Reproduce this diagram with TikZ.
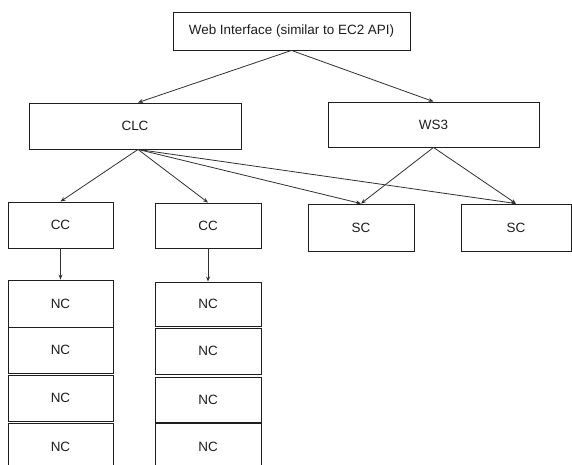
\documentclass[tikz,border=0pt]{standalone}
\usepackage{fontspec}
\setmainfont{Liberation Sans}
\usetikzlibrary{arrows.meta,calc}
\definecolor{ink}{HTML}{1E1E1E}
\definecolor{wire}{HTML}{303030}
\tikzset{
  box/.style={draw=ink, line width=0.9bp, rectangle, inner sep=0pt, text=ink, font=\fontsize{13.5}{15}\selectfont},
  link/.style={draw=wire, line width=0.8bp, -{Stealth[length=5bp,width=4bp]}},
}
\begin{document}
\begin{tikzpicture}[x=1bp,y=-1bp]
\clip (0,0) rectangle (572,465);
\fill[white] (0,0) rectangle (572,465);
\node[box, minimum width=237bp, minimum height=38bp] (web) at (291.5,31) {Web Interface (similar to EC2 API)};
\node[box, minimum width=212bp, minimum height=46bp] (clc) at (135,126) {CLC};
\node[box, minimum width=211bp, minimum height=45bp] (ws3) at (433.5,124.5) {WS3};
\node[box, minimum width=105bp, minimum height=46bp] (cc1) at (60.5,225) {CC};
\node[box, minimum width=106bp, minimum height=45bp] (cc2) at (208,225.5) {CC};
\node[box, minimum width=106bp, minimum height=47bp] (sc1) at (361,227.5) {SC};
\node[box, minimum width=110bp, minimum height=47bp] (sc2) at (516,227.5) {SC};
% NC column 1
\node[box, minimum width=105bp, minimum height=47bp] (nca1) at (60.5,303.5) {NC};
\node[box, minimum width=105bp, minimum height=46bp] (nca2) at (60.5,350) {NC};
\node[box, minimum width=105bp, minimum height=46bp] (nca3) at (60.5,398) {NC};
\node[box, minimum width=105bp, minimum height=47bp] (nca4) at (60.5,446.5) {NC};
% NC column 2
\node[box, minimum width=106bp, minimum height=44bp] (ncb1) at (208,304) {NC};
\node[box, minimum width=106bp, minimum height=46bp] (ncb2) at (208,351) {NC};
\node[box, minimum width=106bp, minimum height=45bp] (ncb3) at (208,399.5) {NC};
\node[box, minimum width=106bp, minimum height=47bp] (ncb4) at (208,446.5) {NC};
% connectors
\draw[link] (web.south) -- ($(clc.north)+(3,0)$);
\draw[link] (web.south) -- (ws3.north);
\draw[link] ($(clc.south)+(3,0)$) -- (cc1.north);
\draw[link] ($(clc.south)+(3,0)$) -- (cc2.north);
\draw[link] ($(clc.south)+(3,0)$) -- (sc1.north);
\draw[link] ($(clc.south)+(3,0)$) -- (sc2.north);
\draw[link] (ws3.south) -- (sc1.north);
\draw[link] (ws3.south) -- (sc2.north);
\draw[link] (cc1.south) -- (nca1.north);
\draw[link] (cc2.south) -- (ncb1.north);
\end{tikzpicture}
\end{document}
